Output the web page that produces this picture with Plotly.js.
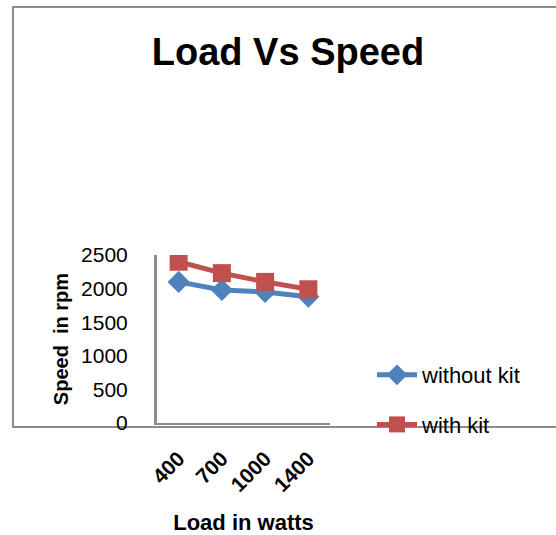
<!DOCTYPE html>
<html>
<head>
<meta charset="utf-8">
<script src="https://cdn.plot.ly/plotly-3.0.1.min.js"></script>
<style>html,body{margin:0;padding:0;background:#fff;}#chart{width:556px;height:535px;}</style>
</head>
<body>
<div id="chart"></div>
<script>
var categories = ["400", "700", "1000", "1400"];
var withoutKit = [2100, 1980, 1950, 1880];
var withKit = [2400, 2230, 2100, 1990];
var yTicks = [0, 500, 1000, 1500, 2000, 2500];

var L = 157, R = 330, T = 255, B = 423;
function px(x){ return (x - L) / (R - L); }
function py(y){ return (B - y) / (B - T); }

var traces = [
  {x: categories, y: withoutKit, name: "without kit", type: "scatter", mode: "lines+markers",
   legendgroup: "a",
   line: {color: "#4F81BD", width: 5}, marker: {symbol: "diamond", size: 17, color: "#4F81BD"}},
  {x: categories, y: withKit, name: "with kit", type: "scatter", mode: "lines+markers",
   legendgroup: "b",
   line: {color: "#C0504D", width: 5}, marker: {symbol: "square", size: 18, color: "#C0504D"}}
];

var frame = "#8c8c8c";
var fam = "Liberation Sans, Arial, sans-serif";
var layout = {
  width: 556, height: 535,
  margin: {l: L, r: 556 - R, t: T, b: 535 - B, pad: 0},
  paper_bgcolor: "#fff", plot_bgcolor: "#fff",
  title: {text: "<b>Load Vs Speed</b>", font: {family: fam, size: 38, color: "#000"},
          x: 288/556, xref: "container", xanchor: "center", y: 1 - 52/535, yanchor: "middle"},
  xaxis: {type: "category", range: [-0.5, 3.5], showgrid: false, zeroline: false,
          showline: true, linecolor: frame, linewidth: 2, ticks: "outside", ticklen: 13, tickcolor: "rgba(0,0,0,0)",
          tickangle: -45, tickfont: {family: fam, size: 21, color: "#000", weight: "bold"},
          title: {text: "<b>Load in watts</b>", font: {family: fam, size: 22, color: "#000"}, standoff: 28},
          fixedrange: true},
  yaxis: {range: [0, 2500], tickvals: yTicks, showgrid: false, zeroline: false,
          showline: true, linecolor: frame, linewidth: 3, ticks: "outside", ticklen: 22, tickcolor: "rgba(0,0,0,0)",
          tickfont: {family: fam, size: 21, color: "#000"},
          title: {text: "<b>Speed  in rpm</b>", font: {family: fam, size: 20, color: "#000"}, standoff: 8},
          fixedrange: true},
  showlegend: true,
  legend: {x: px(372), y: py(354), xanchor: "left", yanchor: "top", bgcolor: "rgba(0,0,0,0)",
           font: {family: fam, size: 22, color: "#000"},
           tracegroupgap: 18, itemwidth: 40},
  shapes: [
    {type: "line", xref: "paper", yref: "paper", x0: px(12), x1: px(556), y0: py(7), y1: py(7), line: {color: frame, width: 2}, layer: "below"},
    {type: "line", xref: "paper", yref: "paper", x0: px(13), x1: px(13), y0: py(7), y1: py(427), line: {color: frame, width: 2}, layer: "below"},
    {type: "line", xref: "paper", yref: "paper", x0: px(12), x1: px(556), y0: py(427), y1: py(427), line: {color: frame, width: 2}, layer: "below"}
  ]
};

Plotly.newPlot("chart", traces, layout, {displayModeBar: false, staticPlot: true});
</script>
</body>
</html>
